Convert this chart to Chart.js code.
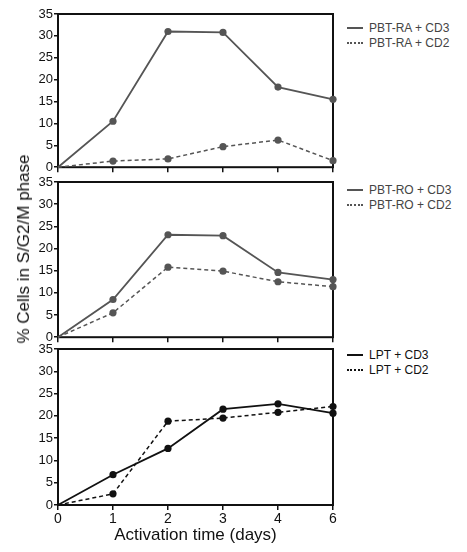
<!DOCTYPE html>
<html lang="en">
<head>
    <meta charset="UTF-8">
    <title>% Cells in S/G2/M phase</title>
    <script src="https://cdn.jsdelivr.net/npm/chart.js"></script>
    <style>
        body {
            margin: 0;
            background: #ffffff;
            font-family: "Liberation Sans", Arial, sans-serif;
            width: 467px;
            height: 552px;
            position: relative;
            overflow: hidden;
        }
        canvas { position: absolute; left: 0; }
        .ytitle {
            position: absolute;
            left: 24px;
            top: 249px;
            transform: translate(-50%, -50%) rotate(-90deg);
            font-size: 17px;
            color: #111;
            white-space: nowrap;
        }
        .leg {
            position: absolute;
            left: 347px;
            font-size: 12px;
            white-space: nowrap;
            display: flex;
            align-items: center;
        }
        .leg span.sample {
            display: inline-block;
            width: 16px;
            margin-right: 6px;
        }
    </style>
</head>
<body>
    <canvas id="panelRA" width="345" height="176" style="top:0px"></canvas>
    <canvas id="panelRO" width="345" height="176" style="top:170px"></canvas>
    <canvas id="panelLPT" width="345" height="215" style="top:337px"></canvas>

    <div class="ytitle">% Cells in S/G2/M phase</div>

    <!-- legends -->
    <div class="leg" style="top:21px; color:#444"><span class="sample" style="border-top:2px solid #555"></span>PBT-RA + CD3</div>
    <div class="leg" style="top:36px; color:#444"><span class="sample" style="border-top:2px dotted #555"></span>PBT-RA + CD2</div>
    <div class="leg" style="top:183px; color:#444"><span class="sample" style="border-top:2px solid #555"></span>PBT-RO + CD3</div>
    <div class="leg" style="top:198px; color:#444"><span class="sample" style="border-top:2px dotted #555"></span>PBT-RO + CD2</div>
    <div class="leg" style="top:348px; color:#111"><span class="sample" style="border-top:2px solid #111"></span>LPT + CD3</div>
    <div class="leg" style="top:363px; color:#111"><span class="sample" style="border-top:2px dotted #111"></span>LPT + CD2</div>

    <script>
        // Activation time (days) - categories
        const days = ['0', '1', '2', '3', '4', '6'];

        // PBT-RA
        const raCD3 = [0, 10.5, 31.0, 30.8, 18.3, 15.5];
        const raCD2 = [0, 1.4, 1.9, 4.7, 6.2, 1.5];
        // PBT-RO
        const roCD3 = [0, 8.5, 23.1, 22.9, 14.6, 13.0];
        const roCD2 = [0, 5.5, 15.8, 14.9, 12.5, 11.4];
        // LPT
        const lptCD3 = [0, 6.8, 12.7, 21.5, 22.7, 20.6];
        const lptCD2 = [0, 2.5, 18.8, 19.5, 20.8, 22.1];

        const yMin = 0, yMax = 35, yStep = 5;

        // box around each plot area
        const framePlugin = {
            id: 'frame',
            beforeDatasetsDraw(chart) {
                const a = chart.chartArea;
                const ctx = chart.ctx;
                ctx.save();
                ctx.strokeStyle = '#111';
                ctx.lineWidth = 2;
                ctx.strokeRect(a.left, a.top, a.right - a.left, a.bottom - a.top);
                ctx.restore();
            }
        };

        // no marker at the origin
        const radii = days.map((d, i) => i === 0 ? 0 : 3.6);

        function makePanel(id, label, cd3, cd2, color, opts) {
            const showX = opts.showX;
            return new Chart(document.getElementById(id), {
                type: 'line',
                data: {
                    labels: days,
                    datasets: [
                        {
                            label: label + ' + CD3',
                            data: cd3,
                            borderColor: color,
                            backgroundColor: color,
                            borderWidth: 1.8,
                            pointRadius: radii,
                            pointBorderWidth: 0,
                            tension: 0,
                            clip: false
                        },
                        {
                            label: label + ' + CD2',
                            data: cd2,
                            borderColor: color,
                            backgroundColor: color,
                            borderWidth: 1.5,
                            borderDash: [4, 3],
                            pointRadius: radii,
                            pointBorderWidth: 0,
                            tension: 0,
                            clip: false
                        }
                    ]
                },
                options: {
                    responsive: false,
                    animation: false,
                    devicePixelRatio: 1,
                    layout: { padding: { top: opts.top, right: 12, left: 0, bottom: 0 } },
                    plugins: {
                        legend: { display: false },
                        tooltip: { enabled: false }
                    },
                    scales: {
                        x: {
                            type: 'category',
                            offset: false,
                            afterFit(scale) { scale.height = opts.xHeight; },
                            grid: {
                                drawOnChartArea: false,
                                drawTicks: true,
                                tickLength: 5,
                                color: '#111',
                                lineWidth: 1.5
                            },
                            border: { display: false },
                            ticks: {
                                display: showX,
                                padding: 1,
                                maxRotation: 0,
                                color: '#111',
                                font: { family: '"Liberation Sans", Arial, sans-serif', size: 14 }
                            },
                            title: {
                                display: showX,
                                text: 'Activation time (days)',
                                color: '#111',
                                padding: { top: 0, bottom: 6 },
                                font: { family: '"Liberation Sans", Arial, sans-serif', size: 17 }
                            }
                        },
                        y: {
                            min: yMin,
                            max: yMax,
                            afterFit(scale) { scale.width = 58; },
                            grid: {
                                drawOnChartArea: false,
                                drawTicks: true,
                                tickLength: 4,
                                color: '#111',
                                lineWidth: 1.5
                            },
                            border: { display: false },
                            ticks: {
                                stepSize: yStep,
                                padding: 1,
                                color: '#111',
                                font: { family: '"Liberation Sans", Arial, sans-serif', size: 13 }
                            }
                        }
                    }
                },
                plugins: [framePlugin]
            });
        }

        makePanel('panelRA', 'PBT-RA', raCD3, raCD2, '#555555', { top: 14, xHeight: 7, showX: false });
        makePanel('panelRO', 'PBT-RO', roCD3, roCD2, '#555555', { top: 12, xHeight: 8, showX: false });
        makePanel('panelLPT', 'LPT', lptCD3, lptCD2, '#111111', { top: 12, xHeight: 47, showX: true });
    </script>
</body>
</html>
